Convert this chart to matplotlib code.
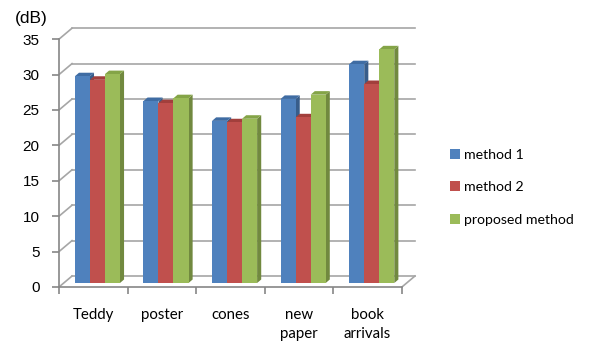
import matplotlib.pyplot as plt
from matplotlib.patches import Polygon, Patch

categories = ['Teddy', 'poster', 'cones', 'new\npaper', 'book\narrivals']
method1 = [29.2, 25.7, 22.9, 26.0, 30.9]
method2 = [28.7, 25.4, 22.7, 23.4, 28.1]
proposed = [29.5, 26.1, 23.2, 26.6, 33.0]
series_names = ['method 1', 'method 2', 'proposed method']
yticks = [0, 5, 10, 15, 20, 25, 30, 35]

front = ['#4F81BD', '#C0504D', '#9BBB59']
side = ['#385D8A', '#8C3836', '#71893F']
top = ['#3F6CA3', '#A23F3C', '#84A447']

# depth offsets (data units): wall, bar position, bar thickness
wall_dx, wall_dy = 0.19, 1.55
pos_dx, pos_dy = 0.06, 0.56
bar_dx, bar_dy = 0.06, 0.5
bar_w = 0.219
grid_c = '#A6A6A6'
axis_c = '#868686'

fig = plt.figure(figsize=(5.94, 3.43), dpi=100)
ax = fig.add_axes([59 / 594, 56 / 343, 358 / 594, 262 / 343])
ax.set_xlim(-0.5, 4.72)
ax.set_ylim(0, 37)

# back wall gridlines and the slanted side-wall links
for v in yticks:
    ax.plot([-0.5 + wall_dx, 4.5 + wall_dx], [v + wall_dy] * 2, color=grid_c, lw=1.2, zorder=1)
    ax.plot([-0.5, -0.5 + wall_dx], [v, v + wall_dy], color=grid_c, lw=1.2, zorder=1)
ax.plot([4.5, 4.5 + wall_dx], [0, wall_dy], color=grid_c, lw=1.2, zorder=1)

z = 2
for i in range(len(categories)):
    for k, vals in enumerate([method1, method2, proposed]):
        x0 = i - 1.5 * bar_w + k * bar_w + pos_dx
        y0 = pos_dy
        y1 = vals[i] + pos_dy
        x1 = x0 + bar_w
        ax.add_patch(Polygon([(x1, y0), (x1 + bar_dx, y0 + bar_dy), (x1 + bar_dx, y1 + bar_dy), (x1, y1)],
                             closed=True, fc=side[k], ec='none', zorder=z))
        ax.add_patch(Polygon([(x0, y1), (x1, y1), (x1 + bar_dx, y1 + bar_dy), (x0 + bar_dx, y1 + bar_dy)],
                             closed=True, fc=top[k], ec='none', zorder=z))
        ax.add_patch(Polygon([(x0, y0), (x1, y0), (x1, y1), (x0, y1)],
                             closed=True, fc=front[k], ec='none', zorder=z + 1))
        z += 2

for s in ['top', 'right']:
    ax.spines[s].set_visible(False)
ax.spines['left'].set_bounds(0, 35)
ax.spines['bottom'].set_bounds(-0.5, 4.5)
for s in ['left', 'bottom']:
    ax.spines[s].set_color(axis_c)
    ax.spines[s].set_linewidth(1.2)

ax.set_yticks(yticks)
ax.set_yticklabels([str(v) for v in yticks], fontfamily='Liberation Sans', fontsize=11)
ax.tick_params(axis='y', length=5, color=axis_c, pad=9, width=1.2)

ax.set_xticks(range(len(categories)))
ax.set_xticklabels(categories, fontfamily='Lato', fontsize=10.8, linespacing=1.45, va='top')
ax.set_xticks([i - 0.5 for i in range(len(categories) + 1)], minor=True)
ax.tick_params(axis='x', which='major', length=0, pad=15)
ax.tick_params(axis='x', which='minor', length=5, color=axis_c, width=1.2)

fig.text(15 / 594, 1 - 19 / 343, '(dB)', fontfamily='Liberation Sans', fontsize=12.5, va='center')

handles = [Patch(fc=c, ec='none') for c in front]
fig.legend(handles, series_names, loc='upper left', bbox_to_anchor=(437 / 594, 1 - 136 / 343),
           frameon=False, prop={'family': 'Lato', 'size': 10.2},
           handlelength=0.7, handleheight=0.7, handletextpad=0.3, labelspacing=1.45)

fig.savefig('out.png', dpi=100)
